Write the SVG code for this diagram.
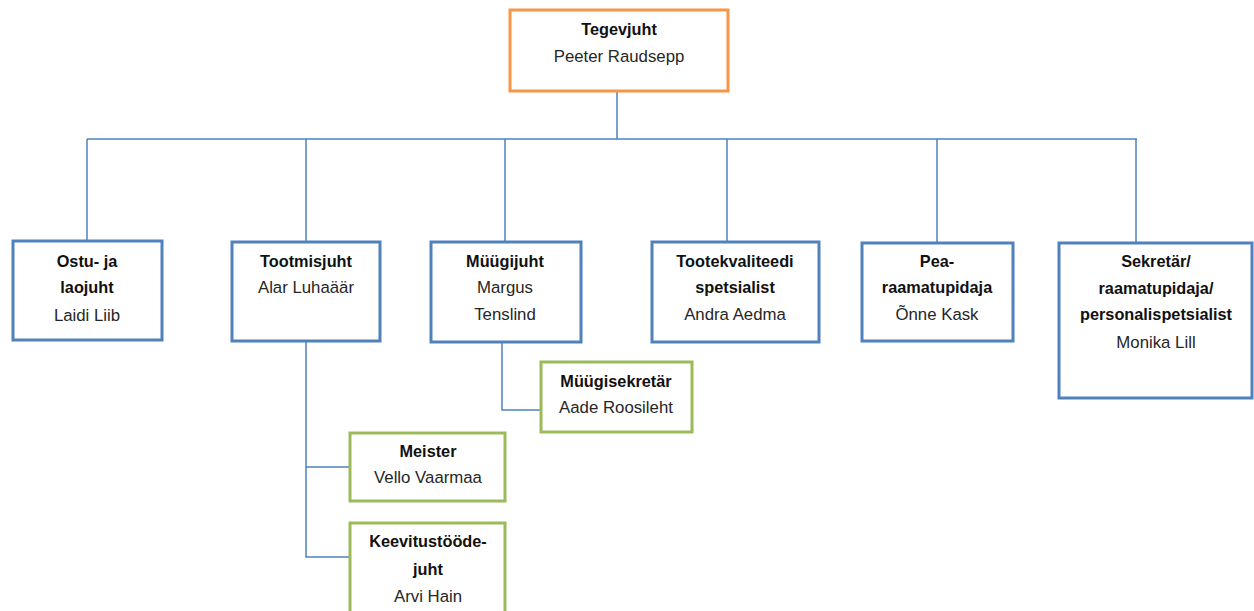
<svg xmlns="http://www.w3.org/2000/svg" width="1254" height="611" viewBox="0 0 1254 611">
<style>
.box{fill:#fff;stroke-width:3}
.b{stroke:#4F81BD}
.g{stroke:#9BBB59}
.o{stroke:#F79646}
text{font-family:"Liberation Sans",Arial,sans-serif;font-size:16.8px;text-anchor:middle;fill:#262626}
.t{font-weight:bold;fill:#111;font-size:16.3px}
.c{fill:none;stroke:#4F81BD;stroke-width:1.5}
</style>
<rect width="1254" height="611" fill="#fff"/>
<g id="connectors">
<path class="c" d="M617 91V139M87 139H1137M87 139V241M306 139V242M505 139V242M727 139V242M937 139V243M1136 139V243"/>
<path class="c" d="M502 342V410H541"/>
<path class="c" d="M306 341V557H350M306 467H350"/>
</g>
<g id="tegevjuht">
<rect class="box o" x="510" y="10" width="218" height="81"/>
<text class="t" x="619" y="35">Tegevjuht</text>
<text x="619" y="62">Peeter Raudsepp</text>
</g>
<g id="ostujuht">
<rect class="box b" x="13" y="241" width="149" height="99"/>
<text class="t" x="87" y="267">Ostu- ja</text>
<text class="t" x="87" y="293">laojuht</text>
<text x="87" y="321">Laidi Liib</text>
</g>
<g id="tootmisjuht">
<rect class="box b" x="232" y="242" width="148" height="99"/>
<text class="t" x="306" y="267">Tootmisjuht</text>
<text x="306" y="293">Alar Luhaäär</text>
</g>
<g id="myygijuht">
<rect class="box b" x="431" y="242" width="150" height="100"/>
<text class="t" x="505" y="267">Müügijuht</text>
<text x="505" y="293">Margus</text>
<text x="505" y="320">Tenslind</text>
</g>
<g id="tootekvaliteet">
<rect class="box b" x="652" y="242" width="167" height="100"/>
<text class="t" x="735" y="267">Tootekvaliteedi</text>
<text class="t" x="735" y="293">spetsialist</text>
<text x="735" y="320">Andra Aedma</text>
</g>
<g id="pearaamatupidaja">
<rect class="box b" x="862" y="243" width="151" height="98"/>
<text class="t" x="937" y="267">Pea-</text>
<text class="t" x="937" y="293">raamatupidaja</text>
<text x="937" y="320">Õnne Kask</text>
</g>
<g id="sekretar">
<rect class="box b" x="1059" y="243" width="193" height="155"/>
<text class="t" x="1156" y="267">Sekretär/</text>
<text class="t" x="1156" y="294">raamatupidaja/</text>
<text class="t" x="1156" y="320">personalispetsialist</text>
<text x="1156" y="348">Monika Lill</text>
</g>
<g id="myygisekretar">
<rect class="box g" x="541" y="362" width="151" height="70"/>
<text class="t" x="616" y="387">Müügisekretär</text>
<text x="616" y="413">Aade Roosileht</text>
</g>
<g id="meister">
<rect class="box g" x="350" y="433" width="155" height="68"/>
<text class="t" x="428" y="457">Meister</text>
<text x="428" y="483">Vello Vaarmaa</text>
</g>
<g id="keevitus">
<rect class="box g" x="350" y="523" width="155" height="95"/>
<text class="t" x="428" y="547">Keevitustööde-</text>
<text class="t" x="428" y="575">juht</text>
<text x="428" y="602">Arvi Hain</text>
</g>
</svg>
